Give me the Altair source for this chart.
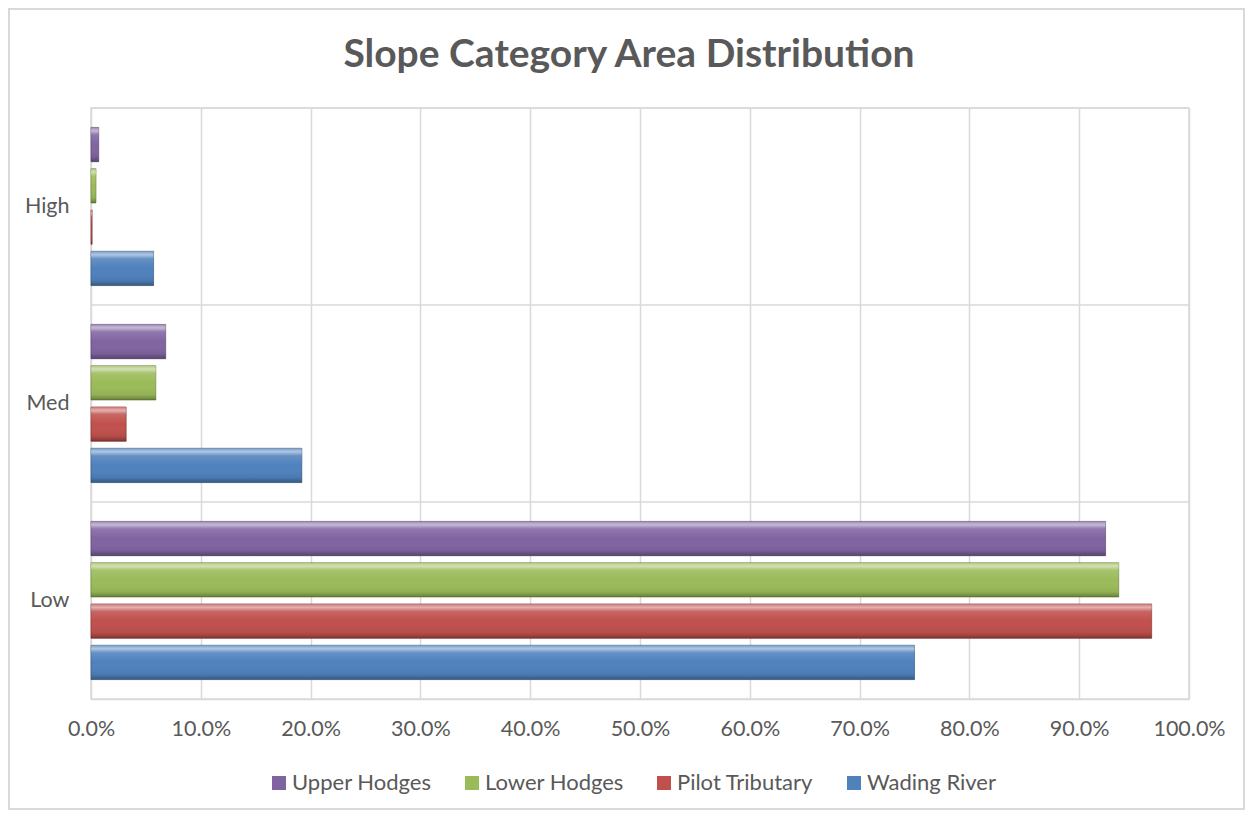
import altair as alt
import pandas as pd

categories = ["High", "Med", "Low"]
series = ["Upper Hodges", "Lower Hodges", "Pilot Tributary", "Wading River"]
colors = ["#8064a2", "#9bbb59", "#c0504d", "#4f81bd"]
edge_colors = ["#5c4776", "#71893f", "#8c3836", "#385d8a"]

upper_hodges = [0.007, 0.068, 0.924]
lower_hodges = [0.0045, 0.059, 0.936]
pilot_tributary = [0.001, 0.032, 0.966]
wading_river = [0.057, 0.192, 0.750]

rows = []
for s, vals in zip(series, [upper_hodges, lower_hodges, pilot_tributary, wading_river]):
    for c, v in zip(categories, vals):
        rows.append({"cat": c, "series": s, "value": v})
df = pd.DataFrame(rows)
sep_df = pd.DataFrame({"cat": categories})
frame_df = pd.DataFrame({"k": [0]})

W, H = 1098, 591
PAD_L, PAD_T, PAD_R, PAD_B = 83, 100, 56, 111
FONT = "Lato"
GRAY = "#595959"
GRID = "#d9d9d9"

# outer chart-area border
frame = alt.Chart(frame_df).mark_rect(fill=None, stroke=GRID, strokeWidth=2).encode(
    x=alt.value(-PAD_L + 1), x2=alt.value(W + PAD_R - 1),
    y=alt.value(-PAD_T + 1), y2=alt.value(H + PAD_B - 1),
)

y_enc = alt.Y("cat:N", sort=categories, title=None,
              scale=alt.Scale(paddingInner=0, paddingOuter=0),
              axis=alt.Axis(grid=False, ticks=False, domain=False, labelFontSize=21.5,
                            labelColor=GRAY, labelFont=FONT, labelPadding=22))
yoff = alt.YOffset("series:N", sort=series,
                   scale=alt.Scale(paddingInner=0.17, paddingOuter=0.47))
x_enc = alt.X("value:Q", title=None,
              scale=alt.Scale(domain=[0, 1], nice=False),
              axis=alt.Axis(format=".1%", values=[i / 10 for i in range(11)],
                            grid=True, gridColor=GRID, gridWidth=1.5,
                            domainColor=GRID, domainWidth=1.5,
                            ticks=False, labelFontSize=21.5, labelColor=GRAY,
                            labelFont=FONT, labelPadding=19, labelFlush=False,
                            labelOverlap=False))

seps = alt.Chart(sep_df).mark_rule(color=GRID, strokeWidth=1.5).encode(
    y=alt.Y("cat:N", sort=categories, bandPosition=0),
    x=alt.value(0), x2=alt.value(W),
)

bars = alt.Chart(df).mark_bar(cornerRadius=0, strokeWidth=1, strokeOpacity=0.7).encode(
    x=x_enc, y=y_enc, yOffset=yoff,
    color=alt.Color("series:N", sort=series,
                    scale=alt.Scale(domain=series, range=colors),
                    legend=alt.Legend(orient="none", legendX=177, legendY=664,
                                      direction="horizontal", title=None,
                                      symbolType="square", symbolSize=196,
                                      symbolStrokeWidth=0,
                                      labelFontSize=22, labelColor=GRAY, labelFont=FONT,
                                      columnPadding=29, labelOffset=2)),
    stroke=alt.Color("series:N", sort=series,
                     scale=alt.Scale(domain=series, range=edge_colors),
                     legend=None),
)

shine = alt.Chart(df).mark_bar().encode(
    x="value:Q", y=alt.Y("cat:N", sort=categories), yOffset=alt.YOffset("series:N", sort=series),
    fill=alt.value({
        "gradient": "linear", "x1": 0, "y1": 0, "x2": 0, "y2": 1,
        "stops": [
            {"offset": 0.0, "color": "rgba(255,255,255,0.25)"},
            {"offset": 0.1, "color": "rgba(255,255,255,0.55)"},
            {"offset": 0.22, "color": "rgba(255,255,255,0.12)"},
            {"offset": 0.5, "color": "rgba(255,255,255,0.0)"},
            {"offset": 0.85, "color": "rgba(0,0,0,0.06)"},
            {"offset": 1.0, "color": "rgba(0,0,0,0.32)"},
        ],
    }),
)

chart = alt.layer(frame, seps, bars, shine).properties(
    width=W, height=H,
    title=alt.TitleParams("Slope Category Area Distribution", fontSize=39, font=FONT,
                          fontWeight="bold", color=GRAY, offset=0, dy=67,
                          anchor="middle", dx=-11),
    padding={"left": PAD_L, "top": PAD_T, "right": PAD_R, "bottom": PAD_B},
    autosize=alt.AutoSizeParams(type="none"),
).configure_view(stroke=GRID, strokeWidth=1.5).resolve_scale(color="independent")

chart.save("out.html", embed_options={"renderer": "svg", "actions": False})
